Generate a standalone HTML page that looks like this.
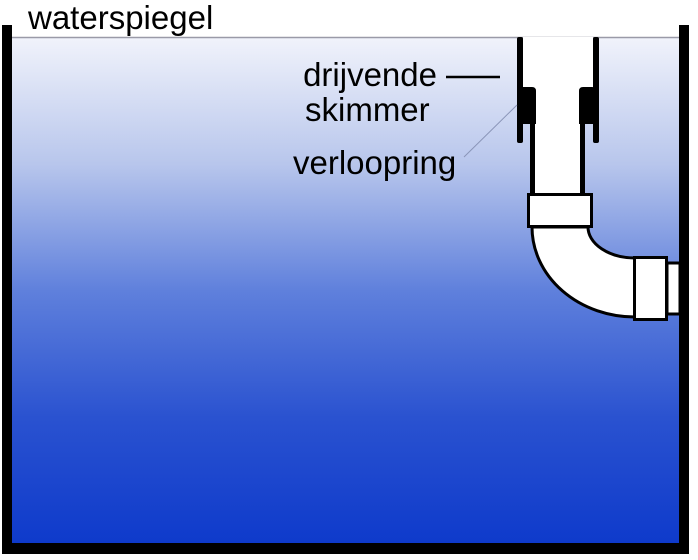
<!DOCTYPE html>
<html><head><meta charset="utf-8"><style>
html,body{margin:0;padding:0;background:#fff;}
svg{display:block}
text{font-family:"Liberation Sans",Arial,sans-serif;fill:#000}
</style></head><body>
<svg width="698" height="560" viewBox="0 0 698 560" xmlns="http://www.w3.org/2000/svg">
<defs>
<linearGradient id="w" x1="0" y1="0" x2="0" y2="1">
<stop offset="0" stop-color="#f1f3fb"/>
<stop offset="0.25" stop-color="#b8c6ec"/>
<stop offset="0.5" stop-color="#5f80dc"/>
<stop offset="0.75" stop-color="#2a52d0"/>
<stop offset="1" stop-color="#0e3acb"/>
</linearGradient>
</defs>
<rect x="10" y="37" width="670" height="508" fill="url(#w)"/>
<line x1="10" y1="37.5" x2="680" y2="37.5" stroke="#9a9aa8" stroke-width="1.5"/>
<rect x="2" y="25" width="10" height="529" fill="#000"/>
<rect x="679" y="25" width="10" height="529" fill="#000"/>
<rect x="2" y="543" width="687" height="11" fill="#000"/>
<rect x="533" y="37" width="50" height="160" fill="#fff"/>
<rect x="523" y="37" width="70" height="50" fill="#fff"/>
<path d="M532,227 A103,90 0 0 0 635,317 L635,258 A47,31 0 0 1 588,227 Z" fill="#fff" stroke="#000" stroke-width="3"/>
<rect x="530" y="88" width="5" height="107" fill="#000"/>
<rect x="580" y="88" width="5" height="107" fill="#000"/>
<rect x="517" y="37" width="6" height="106" rx="2" fill="#000"/>
<rect x="593" y="37" width="6" height="106" rx="2" fill="#000"/>
<path d="M519,90 Q519,87 523,87 L532,87 Q536,87 536,91 L536,124 L519,124 Z" fill="#000"/>
<path d="M579,91 Q579,87 583,87 L592,87 Q596,87 596,90 L596,124 L579,124 Z" fill="#000"/>
<rect x="528.5" y="194.5" width="63" height="32" fill="#fff" stroke="#000" stroke-width="3"/>
<rect x="667" y="263" width="13" height="51" fill="#fff" stroke="#000" stroke-width="3"/>
<rect x="634.5" y="257.5" width="32" height="62" fill="#fff" stroke="#000" stroke-width="3"/>
<text x="28" y="29" font-size="33">waterspiegel</text>
<text x="437" y="86" font-size="33" text-anchor="end">drijvende</text>
<text x="305" y="121" font-size="33">skimmer</text>
<text x="293" y="174" font-size="33">verloopring</text>
<line x1="446" y1="77" x2="500" y2="77" stroke="#000" stroke-width="2.5"/>
<line x1="464" y1="157" x2="517" y2="105" stroke="#8a95b8" stroke-width="1"/>
</svg>
</body></html>
